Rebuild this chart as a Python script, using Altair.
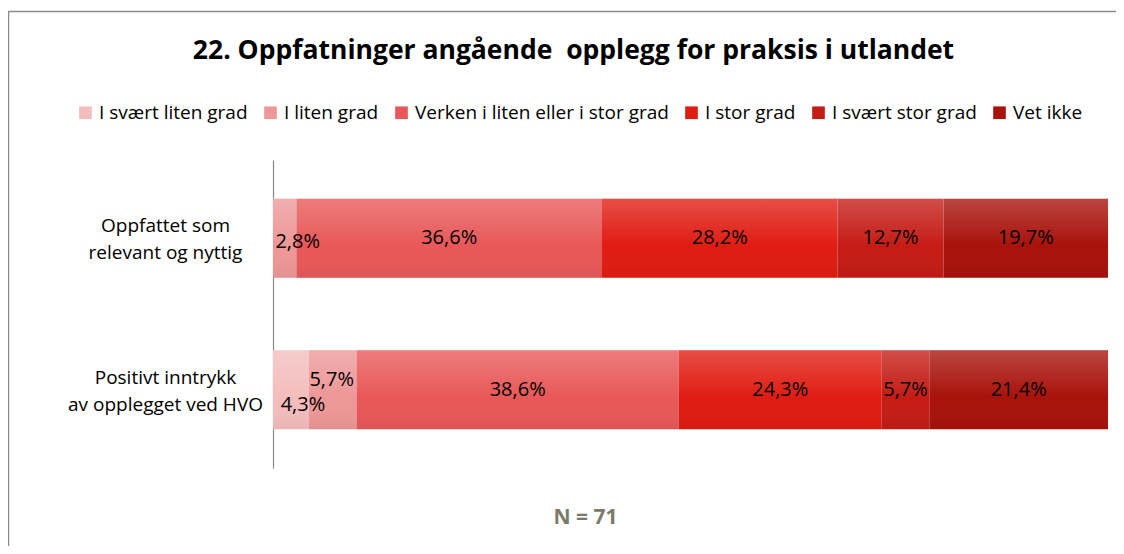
import altair as alt
import pandas as pd

categories = ["I svært liten grad", "I liten grad", "Verken i liten eller i stor grad",
              "I stor grad", "I svært stor grad", "Vet ikke"]
questions = ["Oppfattet som|relevant og nyttig", "Positivt inntrykk|av opplegget ved HVO"]
row1 = [0.0, 2.8, 36.6, 28.2, 12.7, 19.7]
row2 = [4.3, 5.7, 38.6, 24.3, 5.7, 21.4]
colors = ["#F4BDBD", "#EE9797", "#E85858", "#E01C12", "#C41C15", "#A8120B"]

rows = []
for q, vals in zip(questions, [row1, row2]):
    for i, (c, v) in enumerate(zip(categories, vals)):
        rows.append({"question": q, "category": c, "value": v, "order": i})
df = pd.DataFrame(rows)

W, H = 835, 308
FONT = "Open Sans"

yenc = alt.Y("question:N", sort=questions,
             scale=alt.Scale(paddingInner=0.49, paddingOuter=0.26),
             axis=alt.Axis(title=None, ticks=False, labelPadding=108, labelAlign="center",
                           labelBaseline="middle", labelExpr="split(datum.label, '|')",
                           labelFontSize=19, labelFont=FONT, labelColor="#000000",
                           labelLineHeight=27, labelOffset=-12, labelLimit=400,
                           domainColor="#888888", domainWidth=1.2))

xscale = alt.Scale(domain=[0, 100], nice=False)
xaxis = alt.Axis(labels=False, ticks=False, domain=False, grid=False, title="N = 71",
                 titleFontSize=21, titleFont=FONT, titleFontWeight="bold", titleColor="#7A7A68",
                 titleX=312, titleY=49, titleAlign="center", titleBaseline="middle")

base = alt.Chart(df).transform_stack(
    stack="value", groupby=["question"], as_=["x0", "x1"],
    sort=[alt.SortField("order", order="ascending")]
).transform_calculate(
    mid="(datum.x0 + datum.x1) / 2",
    label="replace(format(datum.value, '.1f'), '.', ',') + '%'"
)

bars = base.mark_bar(size=79).encode(
    x=alt.X("x0:Q", scale=xscale, axis=xaxis),
    x2="x1:Q",
    y=yenc,
    color=alt.Color("category:N", sort=categories,
                    scale=alt.Scale(domain=categories, range=colors),
                    legend=alt.Legend(title=None, orient="none", direction="horizontal",
                                      legendX=-197, legendY=-57, symbolType="square",
                                      symbolSize=160, symbolStrokeWidth=0, labelFontSize=19,
                                      labelFont=FONT, labelColor="#000000", columnPadding=13,
                                      labelOffset=4, labelLimit=500)),
)

grad = alt.Gradient(
    gradient="linear",
    stops=[alt.GradientStop(color="rgba(255,255,255,0.22)", offset=0),
           alt.GradientStop(color="rgba(255,255,255,0.0)", offset=0.6),
           alt.GradientStop(color="rgba(0,0,0,0.05)", offset=1)],
    x1=0, x2=0, y1=0, y2=1)

overlay = alt.Chart(df).transform_aggregate(
    total="sum(value)", groupby=["question"]
).transform_calculate(zero="0").mark_bar(size=79, color=grad).encode(
    x=alt.X("zero:Q", scale=xscale),
    x2="total:Q",
    y=alt.Y("question:N", sort=questions),
)

text_style = dict(fontSize=20, font=FONT, color="#000000", baseline="middle", align="center")

normal = base.transform_filter(
    "datum.value > 0 && !((datum.order == 1 && datum.question == '%s') || (datum.order <= 1 && datum.question == '%s'))"
    % (questions[0], questions[1])
).mark_text(**text_style).encode(x="mid:Q", y=alt.Y("question:N", sort=questions), text="label:N")

lab_a = base.transform_filter(
    "datum.order == 1 && datum.question == '%s'" % questions[0]
).mark_text(dx=13, dy=4, **text_style).encode(x="mid:Q", y=alt.Y("question:N", sort=questions), text="label:N")

lab_b = base.transform_filter(
    "datum.order == 0 && datum.question == '%s'" % questions[1]
).mark_text(dx=12, dy=15, **text_style).encode(x="mid:Q", y=alt.Y("question:N", sort=questions), text="label:N")

lab_c = base.transform_filter(
    "datum.order == 1 && datum.question == '%s'" % questions[1]
).mark_text(dx=-1, dy=-10, **text_style).encode(x="mid:Q", y=alt.Y("question:N", sort=questions), text="label:N")

frame = alt.Chart(pd.DataFrame({"a": [0]})).mark_rect(
    fill="transparent", stroke="#8C8C8C", strokeWidth=1.5
).encode(x=alt.value(-264.5), y=alt.value(-148.5), x2=alt.value(3000), y2=alt.value(3000))

chart = alt.layer(frame, bars, overlay, normal, lab_a, lab_b, lab_c).properties(
    width=W, height=H,
    autosize=alt.AutoSizeParams(type="none"),
    padding={"left": 265, "top": 152, "right": 8, "bottom": 78},
    background="white",
    title=alt.TitleParams("22. Oppfatninger angående\u00a0 opplegg for praksis i utlandet",
                          fontSize=26.5, font=FONT, fontWeight="bold", color="#000000",
                          anchor="middle", frame="group", dx=-117, offset=-54),
).configure_view(stroke=None)

chart.save("out.html", embed_options={"renderer": "svg", "actions": False})
